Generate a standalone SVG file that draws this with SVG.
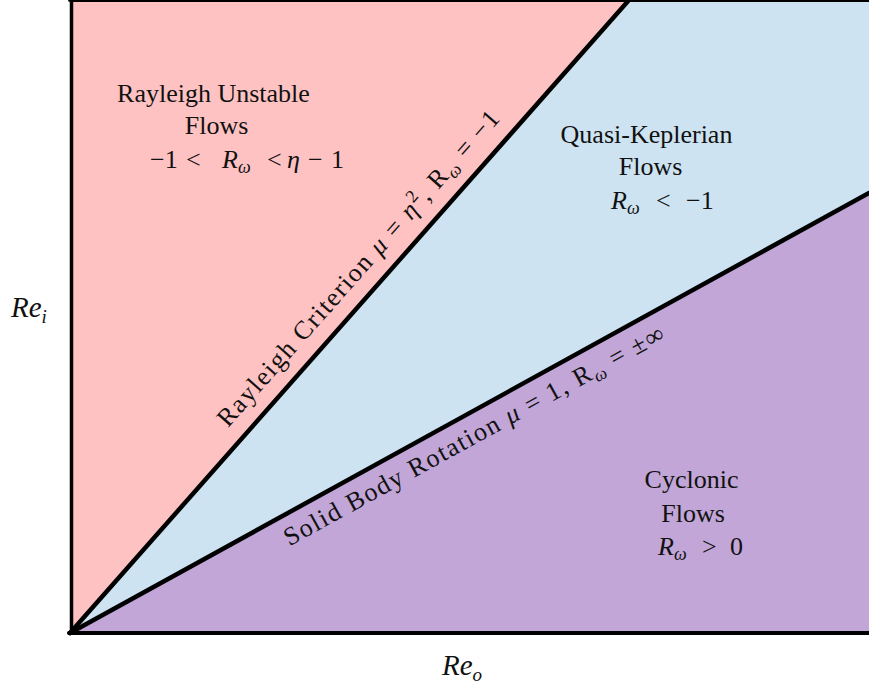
<svg xmlns="http://www.w3.org/2000/svg" width="869" height="684" viewBox="0 0 869 684">
<style>
.t{font-family:"Liberation Serif","Times New Roman",serif;font-size:26px;fill:#111}
.m{font-family:"Liberation Serif","Times New Roman",serif;font-size:26px;fill:#111}
.i{font-style:italic}
.s{font-size:18px}
.ax{font-size:29px}
.axs{font-size:19px}
.ln{stroke:#000;fill:none;stroke-linecap:round}
</style>
<rect width="869" height="684" fill="#fff"/>
<g id="rayleigh-unstable">
<polygon points="70,0 629,0 70,633" fill="#FFC2C2"/>
<text class="t" x="213.5" y="102" text-anchor="middle">Rayleigh Unstable</text>
<text class="t" x="216.5" y="134" text-anchor="middle">Flows</text>
<text class="m" y="168"><tspan x="150">−1</tspan><tspan x="186">&lt;</tspan><tspan x="222" class="i">R</tspan><tspan x="238" dy="5" class="i s">ω</tspan><tspan x="267" dy="-5">&lt;</tspan><tspan x="287" class="i">η</tspan><tspan x="308">−</tspan><tspan x="331">1</tspan></text>
</g>
<g id="quasi-keplerian">
<polygon points="629,0 869,0 869,193 70,633" fill="#CDE3F2"/>
<text class="t" x="646.5" y="143" text-anchor="middle">Quasi-Keplerian</text>
<text class="t" x="650.5" y="175" text-anchor="middle">Flows</text>
<text class="m" y="209"><tspan x="611" class="i">R</tspan><tspan x="627" dy="5" class="i s">ω</tspan><tspan x="656" dy="-5">&lt;</tspan><tspan x="686">−1</tspan></text>
</g>
<g id="cyclonic">
<polygon points="70,633 869,193 869,633" fill="#C1A6D7"/>
<text class="t" x="691.5" y="488" text-anchor="middle">Cyclonic</text>
<text class="t" x="693" y="522" text-anchor="middle">Flows</text>
<text class="m" y="555"><tspan x="658" class="i">R</tspan><tspan x="674" dy="5" class="i s">ω</tspan><tspan x="702" dy="-5">&gt;</tspan><tspan x="730">0</tspan></text>
</g>
<g id="connectors">
<line class="ln" x1="70" y1="0" x2="869" y2="0" stroke-width="4"/>
<line class="ln" x1="71.5" y1="0" x2="71.5" y2="633" stroke-width="3.5"/>
<line class="ln" x1="69" y1="633" x2="869" y2="633" stroke-width="4"/>
<line id="rayleigh-criterion" class="ln" x1="70" y1="633" x2="629" y2="0" stroke-width="4.5"/>
<line id="solid-body" class="ln" x1="70" y1="633" x2="869" y2="193" stroke-width="4.5"/>
</g>
<g id="rayleigh-criterion-label">
<text class="m" transform="translate(228.1,428.3) rotate(-48.55)" x="0" y="0" textLength="412" lengthAdjust="spacing">Rayleigh Criterion <tspan class="i">μ</tspan> = <tspan class="i">η</tspan><tspan class="s" dy="-10">2</tspan><tspan dy="10">, R</tspan><tspan class="i s" dy="5">ω</tspan><tspan dy="-5"> = −1</tspan></text>
</g>
<g id="solid-body-label">
<text class="m" transform="translate(289.5,546.4) rotate(-28.84)" x="0" y="0" textLength="430" lengthAdjust="spacing">Solid Body Rotation <tspan class="i">μ</tspan> = 1, R<tspan class="i s" dy="5">ω</tspan><tspan dy="-5"> = ±∞</tspan></text>
</g>
<g id="axis-labels">
<text class="m i ax" x="11" y="317">Re<tspan class="axs" dy="6">i</tspan></text>
<text class="m i ax" x="442" y="675">Re<tspan class="axs" dy="6">o</tspan></text>
</g>
</svg>
